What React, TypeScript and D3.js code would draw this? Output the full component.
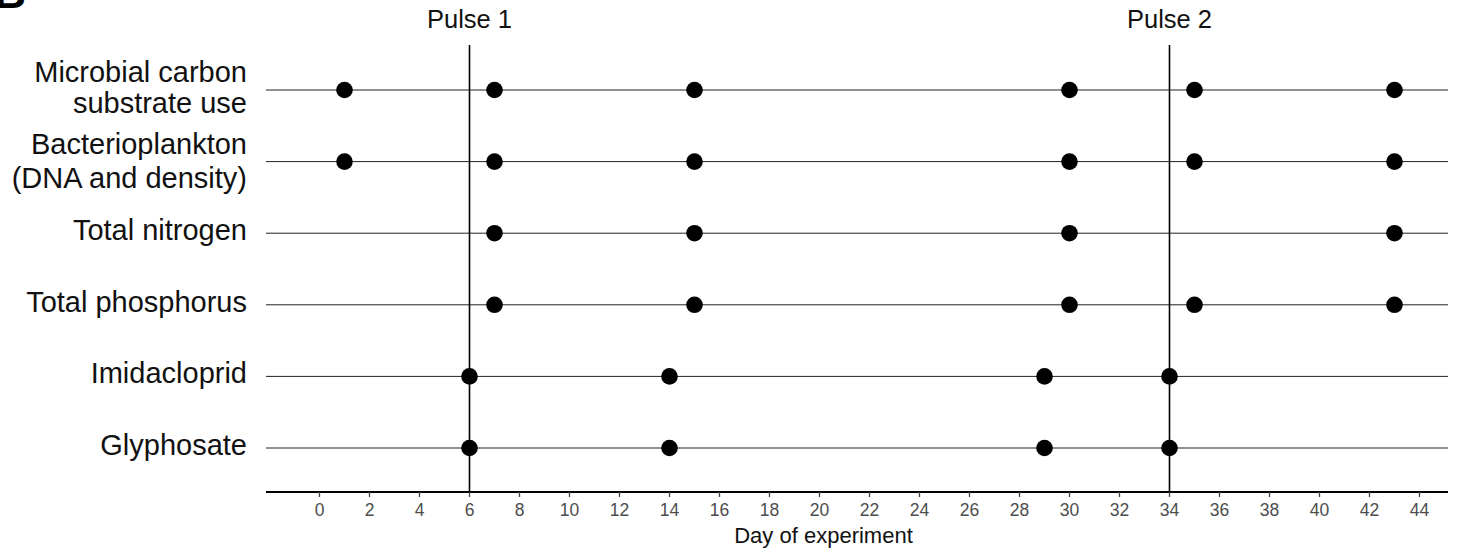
import React from "react";
import * as d3 from "d3";

const rows = [
  "Microbial carbon|substrate use",
  "Bacterioplankton|(DNA and density)",
  "Total nitrogen",
  "Total phosphorus",
  "Imidacloprid",
  "Glyphosate",
];

const microbialDays = [1, 7, 15, 30, 35, 43];
const bacterioDays = [1, 7, 15, 30, 35, 43];
const nitrogenDays = [7, 15, 30, 43];
const phosphorusDays = [7, 15, 30, 35, 43];
const imidaclopridDays = [6, 14, 29, 34];
const glyphosateDays = [6, 14, 29, 34];

const seriesDays = [microbialDays, bacterioDays, nitrogenDays, phosphorusDays, imidaclopridDays, glyphosateDays];

const pulseDays = [6, 34];
const pulseLabels = ["Pulse 1", "Pulse 2"];

const xTicks = d3.range(0, 45, 2);
const xTitle = "Day of experiment";

const W = 1458;
const H = 555;
const FONT = "'Liberation Sans', Arial, Helvetica, sans-serif";

// per-label line offsets (first baseline, second baseline) relative to row
const lineOffsets = [[-8, 23], [-8, 26], [7], [7], [7], [7]];

export default function App() {
  const x = d3.scaleLinear().domain([-2.14, 45.14]).range([266, 1448]);
  const y = d3.scalePoint<string>().domain(rows).range([90, 448]);
  const axisY = 492;

  return (
    <svg width={W} height={H} style={{ position: "absolute", left: 0, top: 0, background: "#fff" }} fontFamily={FONT}>
      {/* cropped panel letter */}
      <text x={26} y={8} textAnchor="end" fontSize={44} fontWeight="bold" fill="#000">B</text>

      {/* row lines */}
      {rows.map((r) => (
        <line key={"h" + r} x1={x.range()[0]} x2={x.range()[1]} y1={y(r)} y2={y(r)} stroke="#222" strokeWidth={1} />
      ))}

      {/* pulse lines */}
      {pulseDays.map((d, i) => (
        <g key={"p" + d}>
          <line x1={x(d)} x2={x(d)} y1={45} y2={axisY} stroke="#000" strokeWidth={1.6} />
          <text x={x(d)} y={28} textAnchor="middle" fontSize={25.5} fill="#111">{pulseLabels[i]}</text>
        </g>
      ))}

      {/* points */}
      {rows.map((r, i) =>
        seriesDays[i].map((d) => (
          <circle key={r + d} cx={x(d)} cy={y(r)} r={8.3} fill="#000" />
        ))
      )}

      {/* row labels */}
      {rows.map((r, i) => {
        const lines = r.split("|");
        const yy = y(r)!;
        return (
          <text key={"l" + r} x={247} textAnchor="end" fontSize={29} fill="#111">
            {lines.map((ln, j) => (
              <tspan key={j} x={247} y={yy + lineOffsets[i][j]}>{ln}</tspan>
            ))}
          </text>
        );
      })}

      {/* x axis */}
      <line x1={x.range()[0]} x2={x.range()[1]} y1={axisY} y2={axisY} stroke="#000" strokeWidth={2} />
      {xTicks.map((t) => (
        <g key={"t" + t}>
          <line x1={x(t)} x2={x(t)} y1={axisY} y2={axisY + 5} stroke="#444" strokeWidth={1.3} />
          <text x={x(t)} y={516} textAnchor="middle" fontSize={17.5} fill="#4d4d4d">{t}</text>
        </g>
      ))}
      <text x={x(20) + 4} y={543} textAnchor="middle" fontSize={22} fill="#111">{xTitle}</text>
    </svg>
  );
}
